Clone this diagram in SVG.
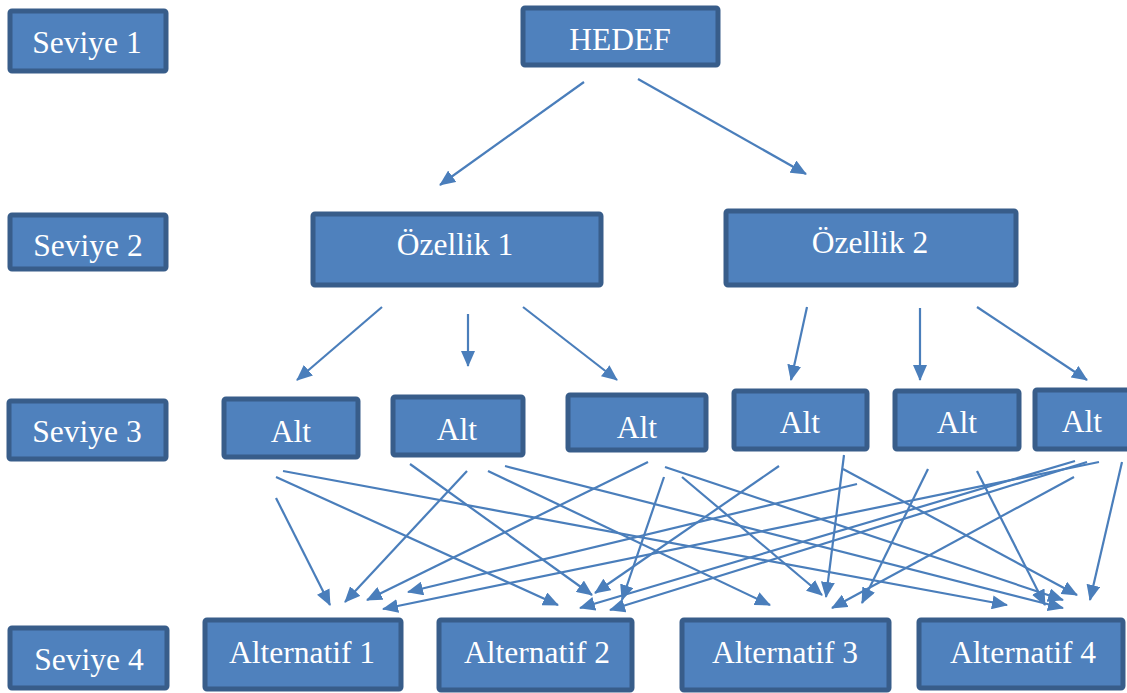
<svg xmlns="http://www.w3.org/2000/svg" width="1127" height="693" viewBox="0 0 1127 693">
<style>
.box{fill:#4F81BD;stroke:#385D8A;stroke-width:5}
.t{font-family:"Liberation Serif","Times New Roman",serif;font-size:31.5px;fill:#FFFFFF;text-anchor:middle}
.c line{stroke:#4A7EBB;stroke-width:2.2;marker-end:url(#ah)}
</style>
<defs>
<marker id="ah" viewBox="0 0 16 14" refX="15" refY="7" markerWidth="16" markerHeight="14" orient="auto" markerUnits="userSpaceOnUse"><path d="M0,0 L16,7 L0,14 z" fill="#4A7EBB"/></marker>
</defs>
<rect width="1127" height="693" fill="#FFFFFF"/>
<g id="seviye1"><rect class="box" x="10" y="11" width="156" height="60" rx="2"/><text class="t" x="87" y="53">Seviye 1</text></g>
<g id="hedef"><rect class="box" x="523" y="8" width="195" height="57" rx="2"/><text class="t" x="620" y="50">HEDEF</text></g>
<g id="seviye2"><rect class="box" x="10" y="215" width="156" height="54" rx="2"/><text class="t" x="88" y="256">Seviye 2</text></g>
<g id="ozellik1"><rect class="box" x="313" y="214" width="288" height="71" rx="2"/><text class="t" x="455" y="255">Özellik 1</text></g>
<g id="ozellik2"><rect class="box" x="726" y="211" width="290" height="74" rx="2"/><text class="t" x="870" y="253">Özellik 2</text></g>
<g id="seviye3"><rect class="box" x="9" y="401" width="157" height="58" rx="2"/><text class="t" x="87" y="442">Seviye 3</text></g>
<g id="alt1"><rect class="box" x="224" y="399" width="134" height="58" rx="2"/><text class="t" x="291" y="442">Alt</text></g>
<g id="alt2"><rect class="box" x="393" y="397" width="130" height="58" rx="2"/><text class="t" x="457" y="440">Alt</text></g>
<g id="alt3"><rect class="box" x="568" y="395" width="138" height="55" rx="2"/><text class="t" x="637" y="438">Alt</text></g>
<g id="alt4"><rect class="box" x="734" y="391" width="133" height="58" rx="2"/><text class="t" x="800" y="433">Alt</text></g>
<g id="alt5"><rect class="box" x="895" y="391" width="124" height="58" rx="2"/><text class="t" x="957" y="433">Alt</text></g>
<g id="alt6"><rect class="box" x="1035" y="390" width="100" height="59" rx="2"/><text class="t" x="1082" y="432">Alt</text></g>
<g id="seviye4"><rect class="box" x="10" y="628" width="157" height="60" rx="2"/><text class="t" x="89" y="670">Seviye 4</text></g>
<g id="alternatif1"><rect class="box" x="205" y="620" width="196" height="69" rx="2"/><text class="t" x="302" y="663">Alternatif 1</text></g>
<g id="alternatif2"><rect class="box" x="439" y="620" width="193" height="70" rx="2"/><text class="t" x="537" y="663">Alternatif 2</text></g>
<g id="alternatif3"><rect class="box" x="682" y="620" width="207" height="70" rx="2"/><text class="t" x="785" y="663">Alternatif 3</text></g>
<g id="alternatif4"><rect class="box" x="919" y="620" width="204" height="68" rx="2"/><text class="t" x="1023" y="663">Alternatif 4</text></g>
<g id="connectors" class="c">
<line x1="584" y1="82" x2="440" y2="185"/>
<line x1="638" y1="79" x2="806" y2="174"/>
<line x1="382" y1="307" x2="297" y2="380"/>
<line x1="468" y1="314" x2="468" y2="366"/>
<line x1="523" y1="307" x2="617" y2="380"/>
<line x1="807" y1="307" x2="791" y2="380"/>
<line x1="920" y1="308" x2="920" y2="380"/>
<line x1="977" y1="307" x2="1087" y2="380"/>
<line x1="276" y1="498" x2="330" y2="605"/>
<line x1="276" y1="477" x2="558" y2="605"/>
<line x1="283" y1="471" x2="1007" y2="605"/>
<line x1="410" y1="464" x2="592" y2="595"/>
<line x1="467" y1="471" x2="345" y2="602"/>
<line x1="488" y1="471" x2="770" y2="605"/>
<line x1="505" y1="466" x2="1063" y2="608"/>
<line x1="648" y1="462" x2="367" y2="600"/>
<line x1="665" y1="467" x2="1063" y2="600"/>
<line x1="664" y1="477" x2="622" y2="600"/>
<line x1="682" y1="477" x2="822" y2="595"/>
<line x1="779" y1="466" x2="595" y2="593"/>
<line x1="844" y1="455" x2="826" y2="597"/>
<line x1="843" y1="469" x2="1077" y2="595"/>
<line x1="857" y1="484" x2="408" y2="592"/>
<line x1="928" y1="469" x2="862" y2="603"/>
<line x1="977" y1="471" x2="1045" y2="605"/>
<line x1="1075" y1="461" x2="580" y2="608"/>
<line x1="1087" y1="462" x2="610" y2="610"/>
<line x1="1099" y1="462" x2="383" y2="609"/>
<line x1="1074" y1="477" x2="832" y2="608"/>
<line x1="1122" y1="462" x2="1090" y2="600"/>
</g>
</svg>
